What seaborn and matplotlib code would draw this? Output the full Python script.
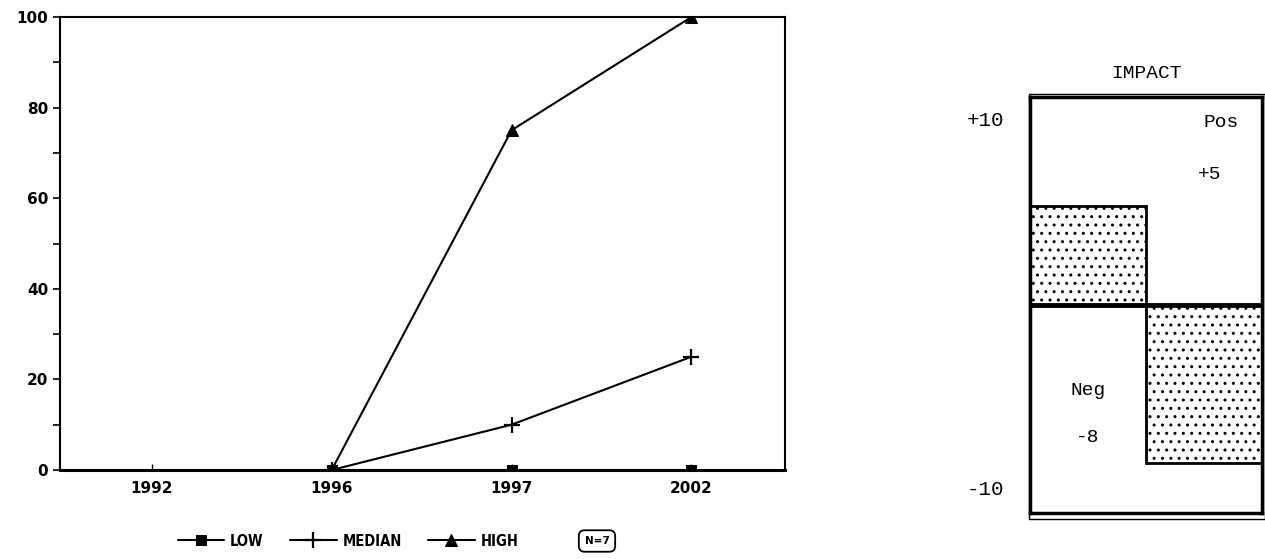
import numpy as np
import pandas as pd
import matplotlib
matplotlib.use("Agg")
import matplotlib.pyplot as plt
import seaborn as sns
from matplotlib.patches import Rectangle

# data
years = ["1992", "1996", "1997", "2002"]
low = [np.nan, 0, 0, 0]
median = [np.nan, 0, 10, 25]
high = [np.nan, 0, 75, 100]

impact_cats = ["Pos", "Neg"]
impact_vals = [5, -8]
impact_labels = ["+5", "-8"]

sns.set_style("white")
plt.rcParams["font.family"] = ["DejaVu Sans"]
plt.rcParams["text.color"] = "black"
plt.rcParams["xtick.color"] = "black"
plt.rcParams["ytick.color"] = "black"

fig = plt.figure(figsize=(12.65, 5.59), dpi=100)

# left panel: line chart
ax = fig.add_axes([60 / 1265, 1 - 470 / 559, 725 / 1265, 453 / 559])
pos = np.arange(len(years))
df = pd.DataFrame({"pos": pos, "LOW": low, "MEDIAN": median, "HIGH": high})

sns.lineplot(data=df, x="pos", y="LOW", marker="s", markersize=7, color="black",
             mec="black", lw=1.5, ax=ax, label="LOW", zorder=4)
sns.lineplot(data=df, x="pos", y="MEDIAN", marker="+", markersize=11, mew=1.6,
             mec="black", color="black", lw=1.5, ax=ax, label="MEDIAN")
sns.lineplot(data=df, x="pos", y="HIGH", marker="^", markersize=8, color="black",
             mec="black", lw=1.5, ax=ax, label="HIGH")

ax.set_xlim(-0.51, 3.52)
ax.set_ylim(0, 100)
ax.set_xticks(pos)
ax.set_xticklabels(years, fontsize=11, fontweight="bold")
ax.set_yticks(np.arange(0, 101, 20))
ax.set_yticks(np.arange(10, 100, 20), minor=True)
ax.set_yticklabels([str(v) for v in range(0, 101, 20)], fontsize=11, fontweight="bold")
ax.tick_params(axis="y", which="both", direction="out", length=5, width=1.2, left=True)
ax.tick_params(axis="x", direction="in", length=4, width=1, bottom=True, pad=8)
ax.set_xlabel("")
ax.set_ylabel("")
for s in ax.spines.values():
    s.set_color("black")
    s.set_linewidth(1.5)
ax.spines["bottom"].set_linewidth(2.2)

handles, labels = ax.get_legend_handles_labels()
ax.get_legend().remove()
fig.legend(handles, labels, loc="center", bbox_to_anchor=(348 / 1265, 1 - 541 / 559),
           ncol=3, frameon=False, handlelength=3.2, columnspacing=1.8,
           handletextpad=0.4, prop=dict(size=10.5, weight="bold", stretch="condensed"))
fig.text(597 / 1265, 1 - 541 / 559, "N=7", ha="center", va="center", fontsize=7.5,
         fontweight="bold",
         bbox=dict(boxstyle="round,pad=0.55", fc="white", ec="black", lw=1.3))

# right panel: impact box
mono = ["Liberation Mono", "DejaVu Sans Mono"]
ax2 = fig.add_axes([1030 / 1265, 1 - 513 / 559, 232 / 1265, 416 / 559])
idf = pd.DataFrame({"cat": impact_cats, "val": impact_vals})
sns.barplot(data=idf, x="cat", y="val", order=impact_cats, color="white",
            edgecolor="black", linewidth=2, width=1.0, ax=ax2, hatch="..")
ax2.axhline(0, color="black", lw=3.5)
ax2.set_xlim(-0.5, 1.5)
ax2.set_ylim(-10.5, 10.5)
ax2.set_xticks([])
ax2.set_yticks([])
ax2.set_xlabel("")
ax2.set_ylabel("")
for s in ax2.spines.values():
    s.set_color("black")
    s.set_linewidth(2.5)
ax2.add_patch(Rectangle((-0.004, -0.014), 1.016, 1.022, transform=ax2.transAxes,
                        fill=False, ec="black", lw=1, clip_on=False))

ax2.set_title("IMPACT", fontsize=14, family=mono, pad=14)
ax2.text(-0.11, 9.3, "+10", transform=ax2.get_yaxis_transform(), ha="right",
         va="center", fontsize=15, family=mono)
ax2.text(-0.11, -9.3, "-10", transform=ax2.get_yaxis_transform(), ha="right",
         va="center", fontsize=15, family=mono)
ax2.text(1.15, 9.2, impact_cats[0], ha="center", va="center", fontsize=14, family=mono)
ax2.text(1.05, 6.6, impact_labels[0], ha="center", va="center", fontsize=14, family=mono)
ax2.text(0.0, -4.3, impact_cats[1], ha="center", va="center", fontsize=14, family=mono)
ax2.text(0.0, -6.7, impact_labels[1], ha="center", va="center", fontsize=14, family=mono)

fig.savefig("out.png", dpi=100)
